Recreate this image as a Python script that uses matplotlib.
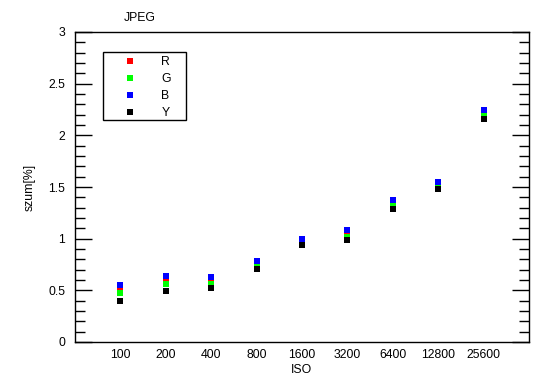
import matplotlib
matplotlib.use("Agg")
import matplotlib.pyplot as plt
from matplotlib.ticker import MultipleLocator
from matplotlib.patches import Rectangle

plt.rcParams['font.family'] = ['Liberation Sans', 'DejaVu Sans']

iso = ['100', '200', '400', '800', '1600', '3200', '6400', '12800', '25600']
R = [0.51, 0.60, 0.59, 0.752, 0.97, 1.045, 1.35, 1.52, 2.21]
G = [0.47, 0.56, 0.557, 0.745, 0.965, 1.02, 1.325, 1.513, 2.195]
B = [0.556, 0.64, 0.63, 0.78, 0.994, 1.08, 1.37, 1.546, 2.243]
Y = [0.40, 0.49, 0.52, 0.71, 0.936, 0.985, 1.285, 1.478, 2.156]
yticks = [0, 0.5, 1, 1.5, 2, 2.5, 3]
ytick_labels = ['0', '0.5', '1', '1.5', '2', '2.5', '3']

W, H = 550, 389
fig = plt.figure(figsize=(W/100, H/100), dpi=100)
ax = fig.add_axes([75/W, 1-342/H, (529-75)/W, (342-32)/H])

x = list(range(1, len(iso)+1))
ms = 4.2
ax.plot(x, R, 's', color='#ff0000', ms=ms, mew=0, label='R')
ax.plot(x, G, 's', color='#00ff00', ms=ms, mew=0, label='G')
ax.plot(x, B, 's', color='#0000ff', ms=ms, mew=0, label='B')
ax.plot(x, Y, 's', color='#000000', ms=ms, mew=0, label='Y')

fs = 8.8
ax.set_xlim(0, 10)
ax.set_ylim(0, 3)
ax.set_xticks(x)
ax.set_xticklabels(iso)
ax.tick_params(axis='x', length=0, pad=5, labelsize=fs)
ax.set_yticks(yticks)
ax.set_yticklabels(ytick_labels)
ax.yaxis.set_minor_locator(MultipleLocator(0.1))
ax.tick_params(axis='y', which='major', direction='in', length=12, width=1,
               left=True, right=True, labelsize=fs, pad=7)
ax.tick_params(axis='y', which='minor', direction='in', length=7, width=1,
               left=True, right=True)
for s in ax.spines.values():
    s.set_linewidth(1)

ax.set_xlabel('ISO', fontsize=fs, labelpad=2)
ax.set_ylabel('szum[%]', fontsize=fs, labelpad=9)
fig.text(140/W, 1-18/H, 'JPEG', ha='center', va='center', fontsize=fs)

# legend (frameless) plus a box drawn around it
leg = ax.legend(loc='upper left', bbox_to_anchor=(118/W, 1-56/H),
                bbox_transform=fig.transFigure,
                frameon=False, fontsize=fs, markerfirst=True,
                handlelength=2.0, handletextpad=1.55,
                labelspacing=0.42, borderpad=0, borderaxespad=0, markerscale=1.0)
fig.add_artist(Rectangle((103/W, 1-120/H), 83/W, 68/H, transform=fig.transFigure,
                         fill=False, edgecolor='black', lw=1))

fig.savefig('out.png', dpi=100)
